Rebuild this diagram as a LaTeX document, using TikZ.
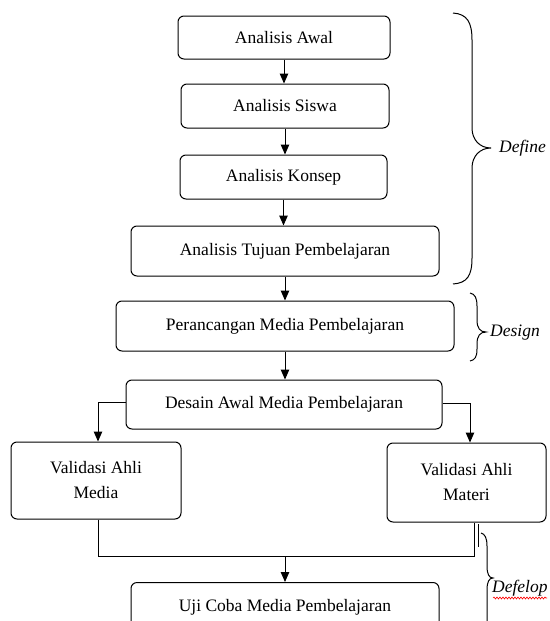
\documentclass[tikz,border=0pt]{standalone}
\usepackage{fontspec}
\setmainfont{Liberation Serif}
\usetikzlibrary{arrows.meta,decorations.pathmorphing}
\begin{document}
\begin{tikzpicture}[x=1pt,y=-1pt,
  box/.style={draw,line width=1pt,rounded corners=6pt,align=center,inner sep=0pt,
    font=\fontsize{17.5}{25}\selectfont},
  arr/.style={line width=1pt,-{Triangle[length=10pt,width=8.5pt]}},
  ln/.style={line width=1pt},
  brc/.style={line width=1pt},
  lbl/.style={font=\fontsize{17.5}{22}\selectfont\itshape,inner sep=0pt}]
\useasboundingbox (0,0) rectangle (549,621);
\clip (0,0) rectangle (549,621);
\node[box,minimum width=212pt,minimum height=43pt] (b1) at (284,37.5) {Analisis Awal};
\node[box,minimum width=208pt,minimum height=44pt] (b2) at (285,106) {Analisis Siswa};
\node[box,minimum width=207pt,minimum height=44pt] (b3) at (283.5,177) {Analisis Konsep};
\node[box,minimum width=308pt,minimum height=50pt] (b4) at (285,251) {Analisis Tujuan Pembelajaran};
\node[box,minimum width=338pt,minimum height=50pt] (b5) at (285,326) {Perancangan Media Pembelajaran};
\node[box,minimum width=316pt,minimum height=49pt] (b6) at (284,404.5) {Desain Awal Media Pembelajaran};
\node[box,minimum width=170pt,minimum height=77pt] (b7) at (96,480.5) {Validasi Ahli\\Media};
\node[box,minimum width=159pt,minimum height=79pt] (b8) at (466.5,482.5) {Validasi Ahli\\Materi};
\node[box,minimum width=308pt,minimum height=50pt,anchor=north] (b9) at (285,582) {\raisebox{-2pt}{Uji Coba Media Pembelajaran}};
% vertical arrows
\draw[arr] (b1.south) -- (b1.south |- b2.north);
\draw[arr] (b2.south) -- (b2.south |- b3.north);
\draw[arr] (b3.south) -- (b3.south |- b4.north);
\draw[arr] (b4.south) -- (b4.south |- b5.north);
\draw[arr] (b5.south) -- (b5.south |- b6.north);
% branches
\coordinate (lb) at ([xshift=2pt]b7.north);
\coordinate (rb) at ([xshift=3.5pt]b8.north);
\draw[arr] ([yshift=2.5pt]b6.west) -| (lb);
\draw[arr] ([yshift=1.5pt]b6.east) -| (rb);
% join
\coordinate (j) at (285,556);
\coordinate (jr) at ([xshift=7.5pt]b8.south);
\draw[ln] (lb |- b7.south) |- (jr |- j) -- (jr);
\draw[ln,line width=0.7pt] (478,524) -- (478,547);
\draw[arr] (j) -- (j |- b9.north);
% braces
\draw[brc] (453,13) .. controls (467,14) and (472,22) .. (472,40) -- (472,128)
  .. controls (472,140) and (480,148) .. (491,148)
  .. controls (480,148) and (472,156) .. (472,168) -- (472,258)
  .. controls (472,276) and (467,283) .. (453,284);
\node[lbl,anchor=west] (tdefine) at (499,148) {Define};
\draw[brc] (470,293) .. controls (475,294) and (477,298) .. (477,306) -- (477,320)
  .. controls (477,328) and (480,332) .. (486,332)
  .. controls (480,332) and (477,336) .. (477,344) -- (477,349)
  .. controls (477,357) and (475,360) .. (470,361);
\node[lbl,anchor=west] (tdesign) at (490,333) {Design};
\draw[brc] (481,533) .. controls (485,534) and (487,538) .. (487,546) -- (487,566)
  .. controls (487,574) and (489,578) .. (493,578)
  .. controls (489,578) and (487,582) .. (487,590) -- (487,640);
\node[lbl,anchor=west] (tdef) at (492,588) {Defelop};
\draw[red,line width=0.6pt,decorate,decoration={snake,amplitude=1pt,segment length=3pt}]
  (493,598) -- (547,598);
\end{tikzpicture}
\end{document}
